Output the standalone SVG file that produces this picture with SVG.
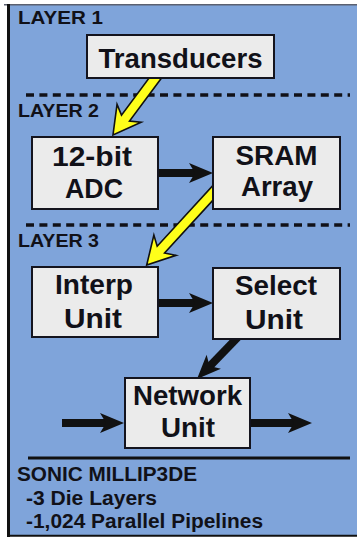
<svg xmlns="http://www.w3.org/2000/svg" xmlns:xlink="http://www.w3.org/1999/xlink" width="357" height="538" viewBox="0 0 357 538">
<style>
.box{fill:#ebebeb;stroke:#14141e;stroke-width:2}
.t{font-family:"Liberation Sans",Arial,sans-serif;font-weight:bold;fill:#111118}
.bt{font-size:27px;text-anchor:middle}
.lt{font-size:19px}
.ct{font-size:20px}
.dash{stroke:#111118;stroke-width:3.5;stroke-dasharray:8 5.4;fill:none}
.shaft{stroke:#111;stroke-width:8;fill:none}
.yel{fill:#ffff1a;stroke:#111;stroke-width:1.6;stroke-linejoin:miter}
</style>
<defs>
<path id="ah" d="M0,0 L-24,-10 L-18,0 L-24,10 Z" fill="#111"/>
</defs>
<rect x="8" y="4" width="352" height="532" fill="#7fa4da"/>
<line x1="4" y1="4.7" x2="357" y2="4.7" stroke="#5a6070" stroke-width="1.5"/>
<line x1="8.5" y1="4" x2="8.5" y2="537" stroke="#111" stroke-width="3"/>
<line x1="8" y1="535.8" x2="357" y2="535.8" stroke="#111" stroke-width="2"/>
<g id="layers">
<line class="dash" x1="26" y1="95" x2="350" y2="95"/>
<line class="dash" x1="26" y1="225" x2="350" y2="225"/>
<line x1="28" y1="458" x2="350" y2="458" stroke="#111" stroke-width="3"/>
<text class="t lt" x="18" y="24" textLength="85" lengthAdjust="spacingAndGlyphs">LAYER 1</text>
<text class="t lt" x="18" y="117" textLength="81" lengthAdjust="spacingAndGlyphs">LAYER 2</text>
<text class="t lt" x="18" y="247" textLength="81" lengthAdjust="spacingAndGlyphs">LAYER 3</text>
</g>
<g id="connectors">
<path class="yel" transform="translate(157.7,74.8) rotate(126.6)" d="M0,-5 L54,-5 L48,-15 L75,0 L48,15 L54,5 L0,5 Z"/>
<path class="yel" transform="translate(221,184) rotate(132.5)" d="M0,-5 L89,-5 L83,-15 L110,0 L83,15 L89,5 L0,5 Z"/>
<line class="shaft" x1="158" y1="173" x2="196" y2="173"/>
<use xlink:href="#ah" transform="translate(213,173)"/>
<line class="shaft" x1="158" y1="303" x2="196" y2="303"/>
<use xlink:href="#ah" transform="translate(213,303)"/>
<line class="shaft" x1="238" y1="337" x2="209" y2="367"/>
<use xlink:href="#ah" transform="translate(197,379) rotate(134.3)"/>
<line class="shaft" x1="62" y1="423" x2="107" y2="423" stroke-width="7"/>
<use xlink:href="#ah" transform="translate(124,423)"/>
<line class="shaft" x1="250" y1="423" x2="295" y2="423" stroke-width="7"/>
<use xlink:href="#ah" transform="translate(312,423)"/>
</g>
<g id="transducers">
<rect class="box" x="87" y="35" width="187" height="43"/>
<text class="t bt" x="180.5" y="68" textLength="164" lengthAdjust="spacingAndGlyphs">Transducers</text>
</g>
<g id="adc">
<rect class="box" x="32" y="137" width="126" height="72"/>
<text class="t bt" x="92" y="166" textLength="80" lengthAdjust="spacingAndGlyphs">12-bit</text>
<text class="t bt" x="94" y="198" textLength="58" lengthAdjust="spacingAndGlyphs">ADC</text>
</g>
<g id="sram">
<rect class="box" x="213" y="137" width="127" height="72"/>
<text class="t bt" x="276.5" y="165" textLength="82" lengthAdjust="spacingAndGlyphs">SRAM</text>
<text class="t bt" x="277" y="196" textLength="72" lengthAdjust="spacingAndGlyphs">Array</text>
</g>
<g id="interp">
<rect class="box" x="32" y="267" width="126" height="70"/>
<text class="t bt" x="94" y="294" textLength="78" lengthAdjust="spacingAndGlyphs">Interp</text>
<text class="t bt" x="93" y="328" textLength="58" lengthAdjust="spacingAndGlyphs">Unit</text>
</g>
<g id="select">
<rect class="box" x="213" y="268" width="127" height="71"/>
<text class="t bt" x="276" y="295" textLength="82" lengthAdjust="spacingAndGlyphs">Select</text>
<text class="t bt" x="274" y="329" textLength="58" lengthAdjust="spacingAndGlyphs">Unit</text>
</g>
<g id="network">
<rect class="box" x="125" y="378" width="125" height="70"/>
<text class="t bt" x="187.5" y="405" textLength="109" lengthAdjust="spacingAndGlyphs">Network</text>
<text class="t bt" x="188" y="437" textLength="54" lengthAdjust="spacingAndGlyphs">Unit</text>
</g>
<g id="caption">
<text class="t ct" x="17" y="481" textLength="180" lengthAdjust="spacingAndGlyphs">SONIC MILLIP3DE</text>
<text class="t ct" x="26" y="505" textLength="131" lengthAdjust="spacingAndGlyphs">-3 Die Layers</text>
<text class="t ct" x="26" y="528" textLength="237" lengthAdjust="spacingAndGlyphs">-1,024 Parallel Pipelines</text>
</g>
</svg>
